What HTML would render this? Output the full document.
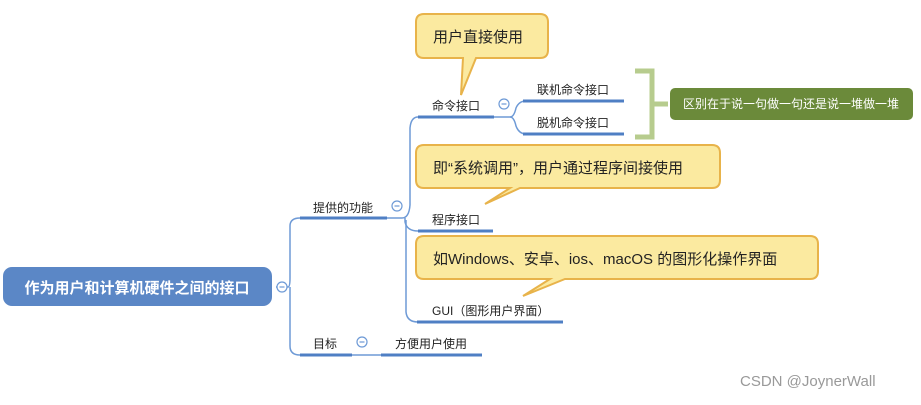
<!DOCTYPE html>
<html><head><meta charset="utf-8"><style>
body{margin:0;background:#fff;width:921px;height:400px;overflow:hidden}
svg text{font-family:"Liberation Sans","Noto Sans CJK SC",sans-serif}
</style></head><body>
<svg width="921" height="400" viewBox="0 0 921 400" xmlns="http://www.w3.org/2000/svg">
<g fill="none" stroke="#6e9ad6" stroke-width="1.5">
<path d="M276 287 H288 Q290 287 290 278 V226 Q290 218 300 218"/>
<path d="M290 287 V346 Q290 355 300 355"/>
<path d="M387 218 H402 Q409 218 410 205 V128 Q411 117 418 117"/>
<path d="M405 218 V222 Q407 231 418 231"/>
<path d="M406 220 V312 Q407 322 418 322"/>
<path d="M494 117 H510 Q514 117 516 108 Q519 101 526 101"/>
<path d="M510 117 Q514 117 516 126 Q519 134 526 134"/>
<path d="M352 355 H381"/>
</g>
<g stroke="#4f7fc4" stroke-width="3">
<line x1="300" y1="218" x2="387" y2="218"/>
<line x1="300" y1="355" x2="352" y2="355"/>
<line x1="418" y1="117" x2="494" y2="117"/>
<line x1="418" y1="231" x2="493" y2="231"/>
<line x1="417" y1="322" x2="563" y2="322"/>
<line x1="523" y1="101" x2="624" y2="101"/>
<line x1="523" y1="134" x2="624" y2="134"/>
<line x1="381" y1="355" x2="482" y2="355"/>
</g>
<rect x="3" y="267" width="269" height="39" rx="9" fill="#5b87c6"/>
<text x="137" y="293" text-anchor="middle" fill="#fff" font-size="15" font-weight="bold">作为用户和计算机硬件之间的接口</text>
<g fill="#fff" stroke="#6e9ad6" stroke-width="1.2">
<circle cx="282" cy="287" r="5"/><circle cx="397" cy="206" r="5"/><circle cx="504" cy="104" r="5"/><circle cx="362" cy="342" r="5"/>
</g>
<g stroke="#6e9ad6" stroke-width="1.2">
<line x1="279.5" y1="287" x2="284.5" y2="287"/><line x1="394.5" y1="206" x2="399.5" y2="206"/><line x1="501.5" y1="104" x2="506.5" y2="104"/><line x1="359.5" y1="342" x2="364.5" y2="342"/>
</g>
<g font-size="12" fill="#222">
<text x="313" y="212">提供的功能</text>
<text x="313" y="348">目标</text>
<text x="395" y="348">方便用户使用</text>
<text x="432" y="110">命令接口</text>
<text x="432" y="224">程序接口</text>
<text x="432" y="315">GUI（图形用户界面）</text>
<text x="537" y="94">联机命令接口</text>
<text x="537" y="127">脱机命令接口</text>
</g>
<path d="M635 71 H652 V137 H635 M652 104 H668" fill="none" stroke="#b7cc8e" stroke-width="5"/>
<rect x="670" y="88" width="243" height="32" rx="5" fill="#6b8a3a"/>
<text x="791" y="108" text-anchor="middle" fill="#fff" font-size="12">区别在于说一句做一句还是说一堆做一堆</text>
<g fill="#fbeaa0" stroke="#e8b34a" stroke-width="2">
<path d="M424 14 H540 Q548 14 548 22 V50 Q548 58 540 58 H476 L461 95 L463 58 H424 Q416 58 416 50 V22 Q416 14 424 14 Z"/>
<path d="M424 145 H712 Q720 145 720 153 V180 Q720 188 712 188 H520 L485 204 L510 188 H424 Q416 188 416 180 V153 Q416 145 424 145 Z"/>
<path d="M424 236 H810 Q818 236 818 244 V271 Q818 279 810 279 H565 L523 296 L550 279 H424 Q416 279 416 271 V244 Q416 236 424 236 Z"/>
</g>
<g font-size="15" fill="#222">
<text x="433" y="42">用户直接使用</text>
<text x="433" y="173">即“系统调用”，用户通过程序间接使用</text>
<text x="433" y="264">如Windows、安卓、ios、macOS 的图形化操作界面</text>
</g>
<text x="740" y="386" font-size="15" fill="#999">CSDN @JoynerWall</text>
</svg>
</body></html>
